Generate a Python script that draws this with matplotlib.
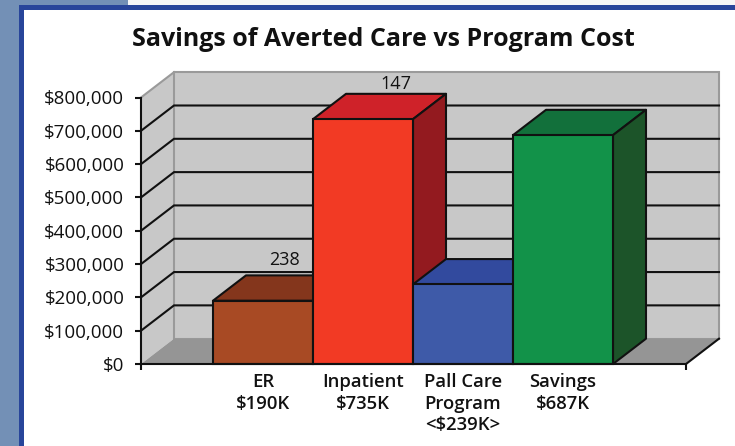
#!/usr/bin/env python3
# -*- coding: utf-8 -*-
"""Pseudo-3D bar chart: savings of averted care vs program cost."""

import matplotlib
matplotlib.use('Agg')
import matplotlib.pyplot as plt
from matplotlib.patches import Polygon, Rectangle

W, H = 735, 446

categories = ['ER\n$190K', 'Inpatient\n$735K', 'Pall Care\nProgram\n<$239K>', 'Savings\n$687K']
values = [190000, 735000, 239000, 687000]
tick_values = [0, 100000, 200000, 300000, 400000, 500000, 600000, 700000, 800000]
bar_labels = ['238', '147', '', '']

front_colors = ['#a84a24', '#f23a24', '#3e5aa8', '#129249']
top_colors = ['#84361c', '#cf2229', '#324a9e', '#12703b']
side_colors = ['#6e2c16', '#931a1f', '#26397f', '#1c5429']

plt.rcParams['font.family'] = ['Open Sans', 'DejaVu Sans']

DX, DY = 0.33, 76000   # depth of the 3D box, in data units
BAR_W = 1.0
X_MIN, X_MAX = -0.72, 4.73
Y_MAX = 800000
WALL = '#c8c8c8'
FLOOR = '#959595'
EDGE = '#9a9a9a'
INK = '#111111'


def px_fig(fig, x, y, w, h, color, zorder=0):
    fig.add_artist(Rectangle((x / W, 1 - (y + h) / H), w / W, h / H, color=color,
                             lw=0, zorder=zorder, transform=fig.transFigure))


def draw_box(ax, x, val, front, top, side):
    ax.add_patch(Polygon([(x, val), (x + DX, val + DY), (x + BAR_W + DX, val + DY), (x + BAR_W, val)],
                         fc=top, ec=INK, lw=1.5, zorder=3, clip_on=False, joinstyle='round'))
    ax.add_patch(Polygon([(x + BAR_W, 0), (x + BAR_W + DX, DY), (x + BAR_W + DX, val + DY), (x + BAR_W, val)],
                         fc=side, ec=INK, lw=1.5, zorder=3, clip_on=False, joinstyle='round'))
    ax.add_patch(Rectangle((x, 0), BAR_W, val, fc=front, ec=INK, lw=1.5, zorder=4,
                           clip_on=False))


fig = plt.figure(figsize=(W / 100, H / 100), dpi=100, facecolor='white')

# bandeau et cadre de la diapo
px_fig(fig, 0, 0, 128, H, '#7390b6')
px_fig(fig, 128, 0, W - 128, 5, '#f6f6f6')
px_fig(fig, 19, 5, W - 19, H - 5, '#28459a', zorder=1)
px_fig(fig, 24, 10, W - 24, H - 10, 'white', zorder=2)

ax = fig.add_axes([141 / W, (H - 364) / H, 545 / W, 266.5 / H], zorder=5)
ax.set_xlim(X_MIN, X_MAX)
ax.set_ylim(0, Y_MAX)
ax.patch.set_visible(False)

# murs et sol
ax.add_patch(Polygon([(X_MIN, 0), (X_MIN + DX, DY), (X_MIN + DX, Y_MAX + DY), (X_MIN, Y_MAX)],
                     fc=WALL, ec='none', zorder=0, clip_on=False))
ax.add_patch(Rectangle((X_MIN + DX, DY), X_MAX - X_MIN, Y_MAX, fc=WALL, ec=EDGE, lw=1.5,
                       zorder=0, clip_on=False))
ax.plot([X_MIN, X_MIN + DX], [Y_MAX, Y_MAX + DY], color=EDGE, lw=1.5, zorder=0, clip_on=False)
ax.add_patch(Polygon([(X_MIN, 0), (X_MIN + DX, DY), (X_MAX + DX, DY), (X_MAX, 0)],
                     fc=FLOOR, ec='none', zorder=1, clip_on=False))
ax.plot([X_MAX, X_MAX + DX], [0, DY], color=INK, lw=1.5, zorder=1, clip_on=False)

# grille
for v in tick_values[1:-1]:
    ax.plot([X_MIN, X_MIN + DX, X_MAX + DX], [v, v + DY, v + DY], color=INK, lw=1.5,
            zorder=2, clip_on=False, solid_joinstyle='miter')

# barres
for i, val in enumerate(values):
    draw_box(ax, i, val, front_colors[i], top_colors[i], side_colors[i])

# le 238 est décalé vers la gauche dans l'original
ax.text(0.71, values[0] + DY + 18000, bar_labels[0], ha='center', va='bottom',
        fontsize=13, color=INK, zorder=2)
ax.text(1.83, values[1] + DY + 3000, bar_labels[1], ha='center', va='bottom',
        fontsize=13, color=INK, zorder=2)

# axes
for s in ('top', 'right'):
    ax.spines[s].set_visible(False)
for s in ('left', 'bottom'):
    ax.spines[s].set_linewidth(1.5)
    ax.spines[s].set_color(INK)
    ax.spines[s].set_zorder(6)

ax.set_yticks(tick_values)
ax.set_yticklabels([f'${v:,}' for v in tick_values], fontsize=13.5, color=INK)
ax.tick_params(axis='y', length=4.5, width=1.5, color=INK, pad=7.5)

ax.set_xticks([X_MIN, X_MAX])
ax.set_xticklabels(['', ''])
ax.tick_params(axis='x', length=4.5, width=1.5, color=INK)

for i, cat in enumerate(categories):
    ax.text(i + 0.5, -27000, cat, ha='center', va='top', fontsize=13.3, fontweight=600,
            color=INK, linespacing=1.26, clip_on=False)

fig.text(383 / W, 1 - 39 / H, 'Savings of Averted Care vs Program Cost', ha='center', va='center',
         fontsize=18, fontweight=700, color=INK, zorder=6)

fig.savefig('out.png', dpi=100)
plt.close(fig)
